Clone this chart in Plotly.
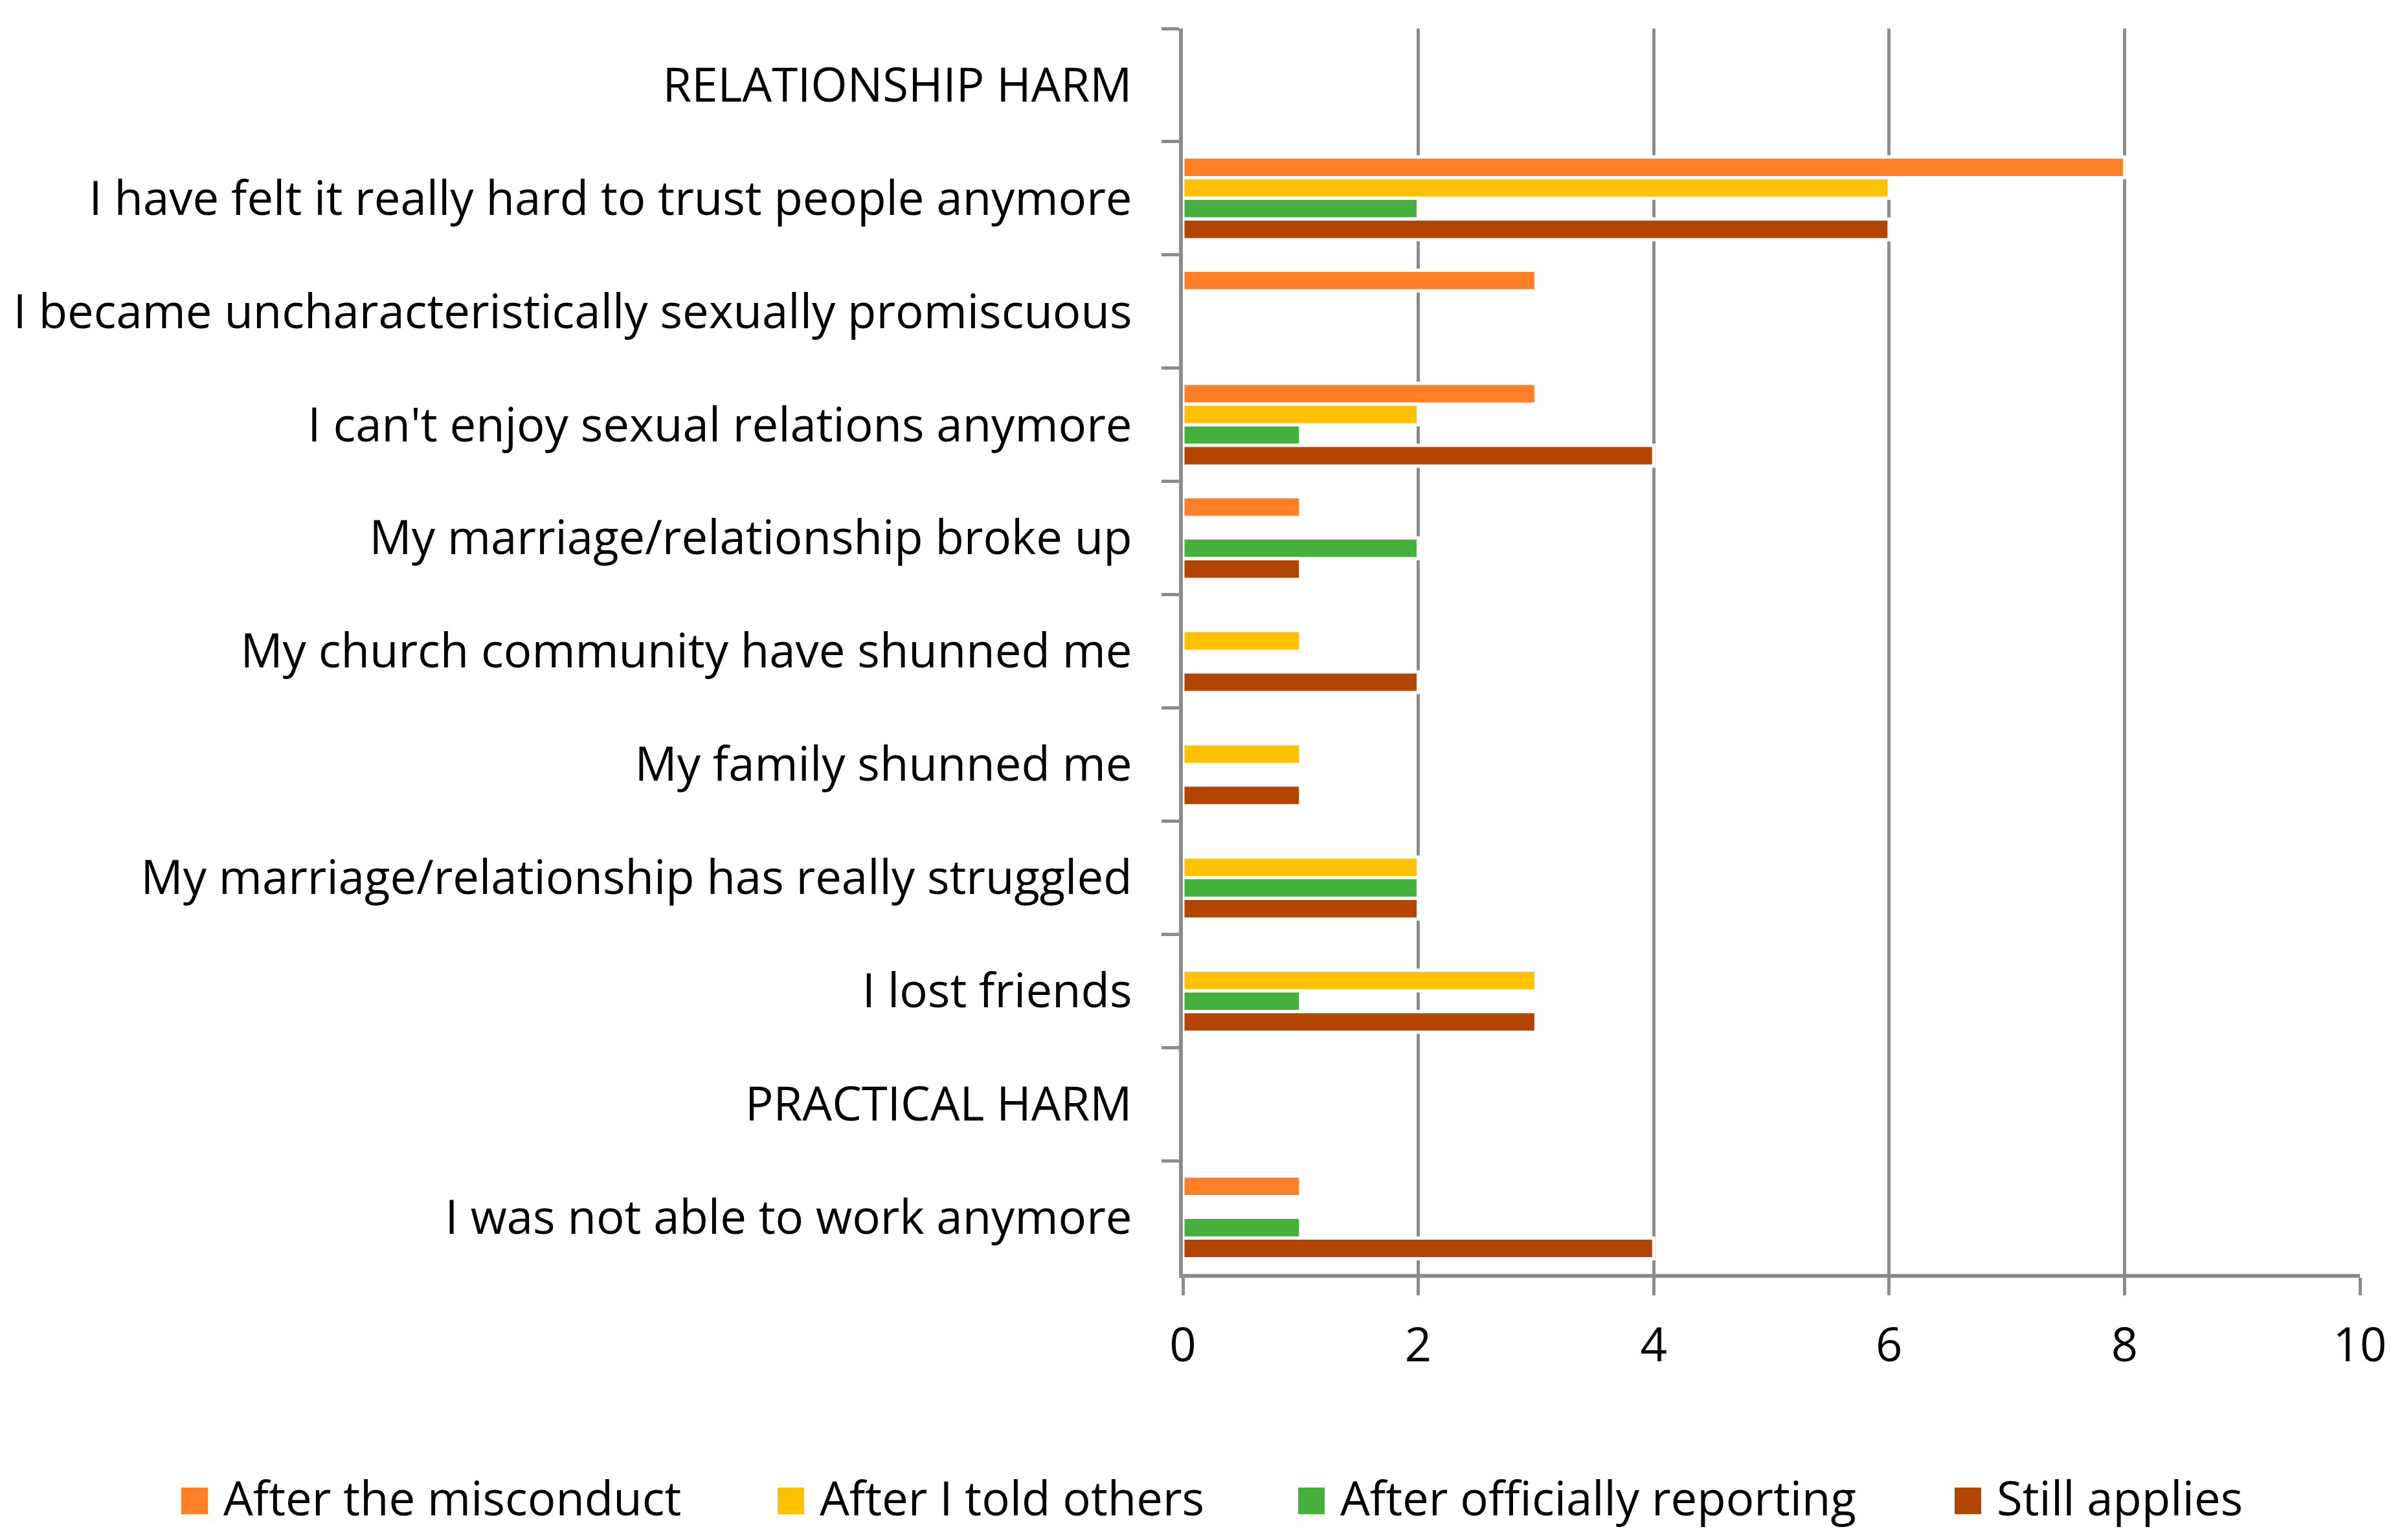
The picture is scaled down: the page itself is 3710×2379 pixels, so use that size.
import plotly.graph_objects as go

categories = [
    "RELATIONSHIP HARM",
    "I have felt it really hard to trust people anymore",
    "I became uncharacteristically sexually promiscuous",
    "I can't enjoy sexual relations anymore",
    "My marriage/relationship broke up",
    "My church community have shunned me",
    "My family shunned me",
    "My marriage/relationship has really struggled",
    "I lost friends",
    "PRACTICAL HARM",
    "I was not able to work anymore",
]

series_names = [
    "After the misconduct",
    "After I told others",
    "After officially reporting",
    "Still applies",
]

after_misconduct = [None, 8, 3, 3, 1, 0, 0, 0, 0, None, 1]
after_told_others = [None, 6, 0, 2, 0, 1, 1, 2, 3, None, 0]
after_officially_reporting = [None, 2, 0, 1, 2, 0, 0, 2, 1, None, 1]
still_applies = [None, 6, 0, 4, 1, 2, 1, 2, 3, None, 4]

x_tick_values = [0, 2, 4, 6, 8, 10]

colors = ["#FF7F27", "#FFC000", "#45B03C", "#B44500"]

W, H = 3710, 2379
OFF = 8  # default page body margin
# target plot area in page pixels
PL, PR, PT, PB = 1827, 3645, 44, 1968
L = PL - OFF
T = PT - OFF
R = W + OFF - PR
B = H + OFF - PB
PW = PR - PL
PH = PB - PT
FONT = "Open Sans"
FS = 72.5
GRAY = "#8C8C8C"

fig = go.Figure()
for name, vals, col in zip(series_names,
                           [after_misconduct, after_told_others,
                            after_officially_reporting, still_applies],
                           colors):
    fig.add_trace(go.Bar(
        y=categories, x=vals, name=name, orientation="h",
        marker=dict(color=col, line=dict(color="white", width=5)),
        showlegend=False,
    ))

def px_to_paper_x(px):
    return (px - PL) / PW

def px_to_paper_y(py):
    return (PB - py) / PH

legend_square_x = [280, 1201, 2005, 3019]
sq = 41
sq_top = 2298
shapes = []
annotations = []
for name, col, sx in zip(series_names, colors, legend_square_x):
    shapes.append(dict(
        type="rect", xref="paper", yref="paper",
        x0=px_to_paper_x(sx), x1=px_to_paper_x(sx + sq),
        y0=px_to_paper_y(sq_top + sq), y1=px_to_paper_y(sq_top),
        fillcolor=col, line=dict(width=0),
    ))
    annotations.append(dict(
        xref="paper", yref="paper",
        x=px_to_paper_x(sx + sq + 22), y=px_to_paper_y(sq_top + sq / 2 - 6),
        xanchor="left", yanchor="middle", showarrow=False,
        text=name, font=dict(family=FONT, size=FS, color="black"),
    ))

fig.update_layout(
    width=W, height=H,
    margin=dict(l=L, r=R, t=T, b=B, pad=0, autoexpand=False),
    paper_bgcolor="white", plot_bgcolor="white",
    barmode="group", bargap=0.27, bargroupgap=0,
    font=dict(family=FONT, size=FS, color="black"),
    shapes=shapes, annotations=annotations,
    xaxis=dict(
        range=[0, 10], tickvals=x_tick_values, ticktext=[str(v) for v in x_tick_values],
        showgrid=True, gridcolor=GRAY, gridwidth=5,
        showline=True, linecolor=GRAY, linewidth=6,
        ticks="outside", ticklen=27, tickwidth=5, tickcolor=GRAY,
        zeroline=False, ticklabelstandoff=15, automargin=False,
        tickfont=dict(family=FONT, size=FS, color="black"),
        fixedrange=True,
    ),
    yaxis=dict(
        categoryorder="array", categoryarray=categories,
        autorange="reversed",
        showgrid=False,
        showline=True, linecolor=GRAY, linewidth=6,
        ticks="outside", ticklen=27, tickwidth=5, tickcolor=GRAY,
        tickson="boundaries", ticklabelstandoff=58, automargin=False,
        tickfont=dict(family=FONT, size=FS, color="black"),
        fixedrange=True,
    ),
)

fig.write_html("out.html")
